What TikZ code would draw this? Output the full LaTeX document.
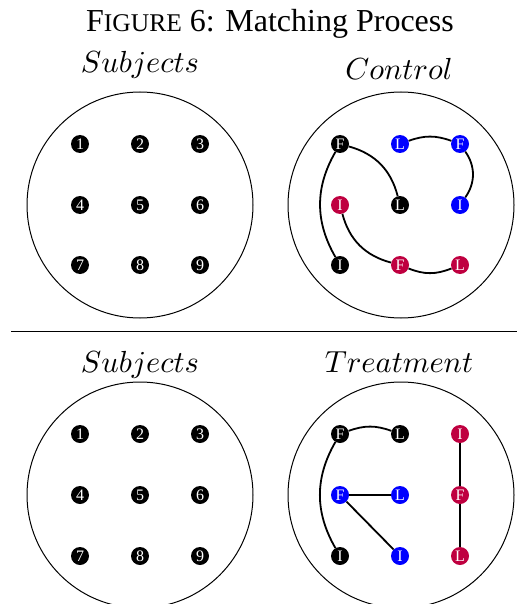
\documentclass[tikz,border=0pt]{standalone}
\usepackage{graphicx}
\usepackage{fontspec}
\newfontfamily\tms{Liberation Serif}
\definecolor{cblue}{RGB}{0,0,255}
\definecolor{cpurple}{RGB}{191,0,64}
\newcommand{\biglbl}[1]{\scalebox{3.05}{$#1$}}
\tikzset{
  dot/.style={circle,fill=black,inner sep=0pt,minimum size=18pt,text=white,font=\tms\fontsize{16}{16}\selectfont},
  bdot/.style={dot,fill=cblue},
  pdot/.style={dot,fill=cpurple},
  link/.style={line width=1.8pt},
  ring/.style={line width=1pt},
  lbl/.style={anchor=base,inner sep=0pt}
}
\begin{document}
\begin{tikzpicture}[x=1pt,y=-1pt]
\useasboundingbox (0,0) rectangle (517,604);
% title
\node[anchor=base,inner sep=0pt] (title) at (270,32) {\tms\fontsize{32}{34}\selectfont F\fontsize{25.5}{27}\selectfont IGURE\fontsize{32}{34}\selectfont{} 6: Matching Process};
\node[lbl] (s1) at (140,72.5) {\biglbl{Subjects}};
\node[lbl] (ctl) at (399,80) {\biglbl{Control}};
\node[lbl] (s2) at (140,372) {\biglbl{Subjects}};
\node[lbl] (trt) at (399,372) {\biglbl{Treatment}};
\draw[line width=1pt] (11,331) coordinate (sepl) -- (517,331) coordinate (sepr);
% circles
\node[ring,draw,circle,minimum size=226pt,inner sep=0pt] (c1) at (140,205) {};
\node[ring,draw,circle,minimum size=226pt,inner sep=0pt] (c2) at (401,205) {};
\node[ring,draw,circle,minimum size=226pt,inner sep=0pt] (c3) at (140,495) {};
\node[ring,draw,circle,minimum size=226pt,inner sep=0pt] (c4) at (401,495) {};
% subjects top
\node[dot] (a1) at (80,144) {1};
\node[dot] (a2) at (140,144) {2};
\node[dot] (a3) at (200,144) {3};
\node[dot] (a4) at (80,205) {4};
\node[dot] (a5) at (140,205) {5};
\node[dot] (a6) at (200,205) {6};
\node[dot] (a7) at (80,265) {7};
\node[dot] (a8) at (140,265) {8};
\node[dot] (a9) at (200,265) {9};
% subjects bottom
\node[dot] (b1) at (80,434) {1};
\node[dot] (b2) at (140,434) {2};
\node[dot] (b3) at (200,434) {3};
\node[dot] (b4) at (80,495) {4};
\node[dot] (b5) at (140,495) {5};
\node[dot] (b6) at (200,495) {6};
\node[dot] (b7) at (80,556) {7};
\node[dot] (b8) at (140,556) {8};
\node[dot] (b9) at (200,556) {9};
% control
\node[dot] (kF) at (340,144) {F};
\node[bdot] (bL) at (400,144) {L};
\node[bdot] (bF) at (460,144) {F};
\node[pdot] (pI) at (340,205) {I};
\node[dot] (kL) at (400,205) {L};
\node[bdot] (bI) at (460,205) {I};
\node[dot] (kI) at (340,265) {I};
\node[pdot] (pF) at (400,265) {F};
\node[pdot] (pL) at (460,265) {L};
\draw[link] (kF) to[bend left=30] (kL);
\draw[link] (kF) to[bend right=30] (kI);
\draw[link] (pI) to[bend right=30] (pF);
\draw[link] (pF) to[bend right=22] (pL);
\draw[link] (bL) to[bend left=20] (bF);
\draw[link] (bF) to[bend left=35] (bI);
% treatment
\node[dot] (tkF) at (340,434) {F};
\node[dot] (tkL) at (400,434) {L};
\node[pdot] (tpI) at (460,434) {I};
\node[bdot] (tbF) at (340,495) {F};
\node[bdot] (tbL) at (400,495) {L};
\node[pdot] (tpF) at (460,495) {F};
\node[dot] (tkI) at (340,556) {I};
\node[bdot] (tbI) at (400,556) {I};
\node[pdot] (tpL) at (460,556) {L};
\draw[link] (tkF) to[bend left=20] (tkL);
\draw[link] (tkF) to[bend right=30] (tkI);
\draw[link] (tbF) -- (tbL);
\draw[link] (tbF) -- (tbI);
\draw[link] (tpI) -- (tpF);
\draw[link] (tpF) -- (tpL);
\end{tikzpicture}
\end{document}
